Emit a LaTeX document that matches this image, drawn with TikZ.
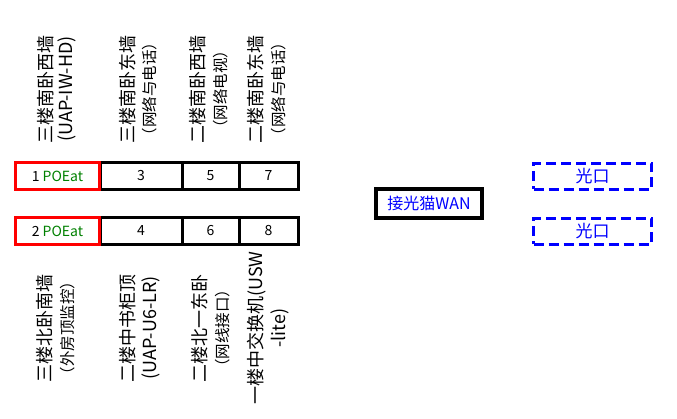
\documentclass[tikz,border=0pt]{standalone}
\usepackage{fontspec}
\setmainfont{Noto Sans CJK SC}
\usetikzlibrary{positioning}
\definecolor{poegreen}{RGB}{0,128,0}

\begin{document}
\begin{tikzpicture}[x=1pt,y=1pt,
	room/.style={rotate=90,inner sep=0pt,font=\fontsize{18}{20}\selectfont},
	note/.style={rotate=90,inner sep=0pt,font=\fontsize{15.5}{17}\selectfont},
	port/.style={draw,line width=3pt,inner sep=0pt,minimum height=27pt,font=\fontsize{14}{16}\selectfont},
	poe/.style={port,draw=red,minimum width=84pt},
	fiber/.style={draw=blue,dash pattern=on 10pt off 5pt,line width=3pt,text=blue,
		minimum width=118pt,minimum height=26pt,inner sep=0pt,font=\fontsize{17}{19}\selectfont}]
	\useasboundingbox (0,0) rectangle (677,-418);

	% upper row of ports
	\node[port,minimum width=82pt] (p3) at (141,-176) {3};
	\node[port,minimum width=57pt] (p5) at (210.5,-176) {5};
	\node[port,minimum width=59pt] (p7) at (268.5,-176) {7};
	\node[poe] (p1) at (57.5,-176) {1 \textcolor{poegreen}{POEat}};
	% lower row of ports
	\node[port,minimum width=82pt] (p4) at (141,-231) {4};
	\node[port,minimum width=57pt] (p6) at (210.5,-231) {6};
	\node[port,minimum width=59pt] (p8) at (268.5,-231) {8};
	\node[poe] (p2) at (57.5,-231) {2 \textcolor{poegreen}{POEat}};

	% rooms above
	\node[room] (r1) at (45.5,-89) {三楼南卧西墙};
	\node[room] (r1n) at (67,-89) {(UAP-IW-HD)};
	\node[room] (r3) at (127.5,-89) {三楼南卧东墙};
	\node[note] (r3n) at (150,-89) {（网络与电话）};
	\node[room] (r5) at (197.5,-89) {二楼南卧西墙};
	\node[note] (r5n) at (221,-89) {（网络电视）};
	\node[room] (r7) at (255.5,-89) {二楼南卧东墙};
	\node[note] (r7n) at (279,-89) {（网络与电话）};
	% rooms below
	\node[room] (r2) at (45,-328) {三楼北卧南墙};
	\node[note] (r2n) at (68,-328) {（外房顶监控）};
	\node[room] (r4) at (127.5,-328) {二楼中书柜顶};
	\node[room] (r4n) at (150.5,-328) {(UAP-U6-LR)};
	\node[room] (r6) at (199.5,-328) {二楼北一东卧};
	\node[note] (r6n) at (222.5,-328) {（网线接口）};
	\node[room] (r8) at (256.5,-328) {一楼中交换机(USW};
	\node[room] (r8n) at (279.5,-328) {-lite)};

	% modem and fibre
	\node[draw,line width=4pt,text=blue,minimum width=106pt,minimum height=29pt,inner sep=0pt,
		font=\fontsize{16}{18}\selectfont] (wan) at (429,-203.5) {接光猫WAN};
	\node[fiber] (f1) at (592.5,-176) {光口};
	\node[fiber] (f2) at (592.5,-231) {光口};
\end{tikzpicture}
\end{document}
